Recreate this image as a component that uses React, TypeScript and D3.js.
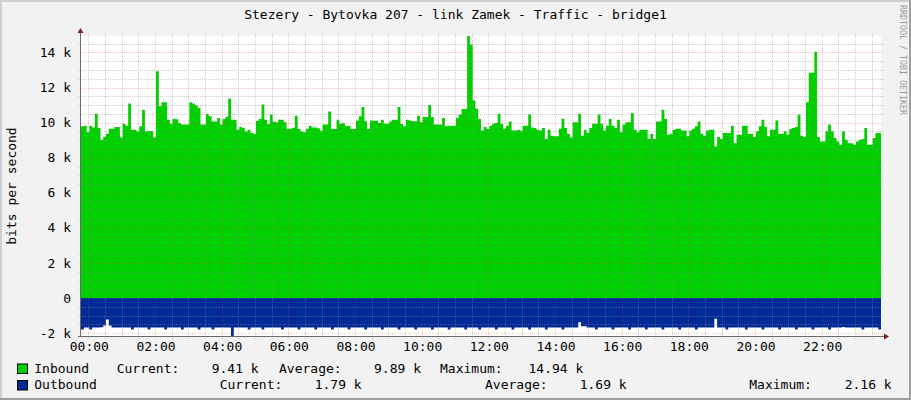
import * as d3 from 'd3';

/**
 * RRDtool-style traffic graph: inbound area above zero, outbound mirrored below.
 * 5-minute samples over 24 hours, values in kbit/s.
 */

const TITLE = 'Stezery - Bytovka 207 - link Zamek - Traffic - bridge1';
const Y_TITLE = 'bits per second';
const WATERMARK = 'RRDTOOL / TOBI OETIKER';

// inbound, kbit/s, one value per 5 minutes
const inbound = [
  9.80, 9.82, 9.45, 9.83, 9.73, 10.51, 9.70, 9.03, 9.20, 9.37,
  9.66, 9.66, 9.75, 9.75, 9.16, 9.94, 9.83, 11.09, 9.60, 9.60,
  9.50, 9.79, 10.74, 9.50, 9.52, 9.52, 9.16, 12.93, 10.93, 11.16,
  11.16, 10.17, 9.94, 10.23, 10.20, 9.98, 9.90, 9.90, 9.90, 11.16,
  11.09, 10.99, 10.84, 9.90, 9.90, 10.49, 10.36, 10.07, 10.07, 10.27,
  9.89, 10.21, 10.34, 11.37, 10.17, 10.17, 9.60, 9.75, 9.70, 9.50,
  9.60, 9.41, 9.37, 10.11, 10.21, 11.03, 10.17, 9.92, 10.46, 10.07,
  10.02, 10.17,
  10.17, 10.02, 9.66, 9.66, 9.71, 10.40, 9.64, 9.50, 9.45, 9.66,
  9.83, 9.73, 9.73, 9.68, 9.54, 9.89, 9.89, 10.63, 9.64, 9.64,
  10.17, 9.94, 9.98, 9.79, 9.83, 9.64, 9.64, 10.13, 10.36, 10.90,
  10.08, 9.64, 10.13, 10.11, 10.11, 9.98, 10.17, 9.94, 9.94, 10.06,
  10.17, 10.17, 10.90, 9.92, 9.79, 10.17, 10.13, 10.08, 10.08, 10.40,
  10.02, 10.32, 10.32, 11.01, 10.32, 9.89, 9.89, 9.89, 10.27, 9.79,
  9.83, 9.83, 9.83, 10.27, 10.46, 10.78, 10.78, 14.94, 14.46, 11.26,
  10.80, 10.21,
  9.55, 9.75, 9.64, 9.83, 9.94, 9.98, 10.51, 9.94, 9.66, 9.83,
  10.06, 9.56, 9.56, 9.60, 9.54, 9.83, 9.83, 10.46, 9.72, 9.70,
  9.60, 9.56, 9.70, 9.07, 9.60, 9.26, 9.22, 9.22, 9.66, 10.23,
  9.70, 9.37, 9.16, 10.02, 10.02, 10.51, 9.26, 9.60, 9.41, 9.70,
  9.94, 9.94, 10.46, 9.94, 9.56, 9.83, 10.21, 9.83, 9.70, 10.17,
  9.45, 9.89, 10.02, 10.02, 10.55, 9.60, 9.45, 9.60, 9.60, 9.60,
  9.07, 9.37, 9.07, 10.07, 10.07, 10.74, 10.21, 9.31, 9.37, 9.60,
  9.66, 9.66,
  9.56, 9.56, 9.22, 9.56, 9.65, 9.79, 10.06, 9.37, 9.26, 9.56,
  9.60, 9.60, 8.64, 9.18, 9.07, 9.41, 9.41, 9.41, 9.83, 8.83,
  9.31, 9.31, 9.83, 9.83, 9.37, 9.37, 9.18, 9.51, 9.79, 10.17,
  9.75, 9.22, 9.60, 9.60, 10.13, 9.37, 9.37, 9.51, 9.31, 9.64,
  9.70, 9.75, 10.46, 9.26, 9.18, 11.16, 12.84, 12.84, 14.04, 9.18,
  8.93, 8.93, 9.51, 9.89, 9.51, 9.13, 8.93, 8.74, 9.51, 9.03,
  8.83, 8.83, 8.74, 8.93, 9.03, 9.07, 9.70, 8.74, 8.74, 9.13,
  9.41, 9.41,
];

// outbound, kbit/s (drawn below zero), one value per 5 minutes
const outbound = [
  1.79, 1.68, 1.68, 1.79, 1.68, 1.68, 1.68, 1.66, 1.56, 1.22, 1.56, 1.68,
  1.68, 1.68, 1.68, 1.68, 1.68, 1.68, 1.79, 1.68, 1.68, 1.68, 1.68, 1.68,
  1.79, 1.68, 1.68, 1.68, 1.68, 1.68, 1.79, 1.68, 1.68, 1.68, 1.68, 1.68,
  1.79, 1.68, 1.68, 1.68, 1.68, 1.68, 1.79, 1.68, 1.68, 1.68, 1.68, 1.79,
  1.68, 1.68, 1.68, 1.68, 1.68, 1.68, 2.16, 1.68, 1.68, 1.68, 1.68, 1.68,
  1.79, 1.68, 1.68, 1.68, 1.68, 1.79, 1.68, 1.68, 1.68, 1.68, 1.68, 1.68,
  1.79, 1.68, 1.68, 1.68, 1.68, 1.68, 1.79, 1.68, 1.68, 1.68, 1.68, 1.68,
  1.79, 1.68, 1.68, 1.68, 1.68, 1.68, 1.79, 1.68, 1.68, 1.68, 1.68, 1.68,
  1.79, 1.68, 1.68, 1.68, 1.68, 1.68, 1.79, 1.68, 1.68, 1.68, 1.68, 1.68,
  1.79, 1.68, 1.68, 1.68, 1.68, 1.68, 1.79, 1.68, 1.68, 1.68, 1.68, 1.68,
  1.79, 1.68, 1.68, 1.68, 1.68, 1.68, 1.79, 1.68, 1.68, 1.68, 1.68, 1.68,
  1.79, 1.68, 1.68, 1.68, 1.68, 1.68, 1.79, 1.68, 1.68, 1.68, 1.68, 1.79,
  1.68, 1.68, 1.68, 1.68, 1.68, 1.79, 1.68, 1.68, 1.68, 1.68, 1.68, 1.79,
  1.68, 1.68, 1.68, 1.68, 1.68, 1.79, 1.68, 1.68, 1.68, 1.68, 1.68, 1.79,
  1.68, 1.68, 1.68, 1.68, 1.68, 1.79, 1.68, 1.68, 1.68, 1.68, 1.68, 1.37,
  1.60, 1.60, 1.68, 1.68, 1.68, 1.79, 1.68, 1.68, 1.68, 1.68, 1.68, 1.79,
  1.68, 1.68, 1.68, 1.68, 1.68, 1.79, 1.68, 1.68, 1.68, 1.68, 1.68, 1.79,
  1.68, 1.68, 1.68, 1.68, 1.68, 1.79, 1.68, 1.68, 1.68, 1.68, 1.68, 1.79,
  1.68, 1.68, 1.68, 1.68, 1.68, 1.79, 1.68, 1.68, 1.68, 1.68, 1.68, 1.68,
  1.18, 1.68, 1.68, 1.68, 1.79, 1.68, 1.68, 1.68, 1.68, 1.68, 1.68, 1.79,
  1.68, 1.68, 1.68, 1.68, 1.68, 1.79, 1.68, 1.68, 1.68, 1.68, 1.68, 1.79,
  1.68, 1.68, 1.68, 1.68, 1.68, 1.79, 1.68, 1.68, 1.68, 1.68, 1.68, 1.79,
  1.68, 1.68, 1.68, 1.68, 1.68, 1.79, 1.68, 1.68, 1.68, 1.68, 1.64, 1.68,
  1.68, 1.68, 1.68, 1.68, 1.68, 1.79, 1.68, 1.68, 1.68, 1.68, 1.68, 1.79,
];

const seriesNames = ['Inbound', 'Outbound'];
const statNames = ['Current:', 'Average:', 'Maximum:'];
const inboundStats = ['9.41 k', '9.89 k', '14.94 k'];
const outboundStats = ['1.79 k', '1.69 k', '2.16 k'];
const hourTicks = [0, 2, 4, 6, 8, 10, 12, 14, 16, 18, 20, 22];
const yTicks = [-2, 0, 2, 4, 6, 8, 10, 12, 14];
const yLimits = [-2.16, 14.94]; // autoscaled to the data extremes

const W = 911;
const H = 400;
const plot = { left: 81, right: 881, top: 36, bottom: 336 };
const START_MIN = -13.2; // first sample, minutes from midnight
const STEP_MIN = 5;
const FONT = '"DejaVu Sans Mono", monospace';
const GREEN = '#00CF00';
const BLUE = '#002A97';

// legend layout: label starts and value right edges per row
const legendLayout = [
  { labelX: [116.7, 279, 440], valueEnd: [258.7, 421, 583.3], y: 372.5, box: 363.5 },
  { labelX: [219.7, 485, 749.3], valueEnd: [361.7, 626.7, 891.7], y: 389, box: 380 },
];

const x = d3.scaleLinear().domain([START_MIN, START_MIN + 24 * 60]).range([plot.left, plot.right]);
const y = d3.scaleLinear().domain(yLimits).range([plot.bottom, plot.top]);
const px = (v: number) => Math.round(v) + 0.5;

function stepArea(values: number[], sign: number) {
  const pts: [number, number][] = values.map((v, i) => [START_MIN + i * STEP_MIN, sign * v]);
  pts.push([START_MIN + values.length * STEP_MIN, sign * values[values.length - 1]]);
  return d3.area<[number, number]>()
    .x((d) => x(d[0]))
    .y0(y(0))
    .y1((d) => y(d[1]))
    .curve(d3.curveStepAfter)(pts) || '';
}

const pad2 = (n: number) => (n < 10 ? '0' + n : '' + n);

export default function App() {
  const minorY = d3.range(-1.5, 14.94, 0.5).filter((v) => v % 2 !== 0);
  const majorY = yTicks;
  const minorX = d3.range(0, 24 * 60, 30).filter((t) => t % 120 !== 0 && x(t) < plot.right);
  const majorX = hourTicks.map((h) => h * 60);

  const stats = [inboundStats, outboundStats];
  const colors = [GREEN, BLUE];

  return (
    <svg
      width={W}
      height={H}
      style={{ position: 'absolute', left: 0, top: 0, display: 'block' }}
      fontFamily={FONT}
    >
      <rect x={0} y={0} width={W} height={H} fill="#F2F2F2" />
      <rect x={0} y={0} width={W} height={2} fill="#CFCFCF" />
      <rect x={0} y={0} width={2} height={H} fill="#CFCFCF" />
      <rect x={0} y={H - 2} width={W} height={2} fill="#9E9E9E" />
      <rect x={W - 2} y={0} width={2} height={H} fill="#9E9E9E" />

      <rect x={plot.left} y={plot.top} width={plot.right - plot.left} height={plot.bottom - plot.top} fill="#fff" />

      <path d={stepArea(inbound, 1)} fill={GREEN} />
      <path d={stepArea(outbound, -1)} fill={BLUE} />

      {/* minor grid */}
      <g stroke="#8F8F8F" strokeOpacity={0.45} strokeDasharray="1,1" strokeWidth={1}>
        {minorY.map((v) => (
          <line key={'my' + v} x1={plot.left - 3} x2={plot.right + 3} y1={px(y(v))} y2={px(y(v))} />
        ))}
        {minorX.map((t) => (
          <line key={'mx' + t} x1={px(x(t))} x2={px(x(t))} y1={plot.top - 2} y2={plot.bottom + 3} />
        ))}
      </g>
      {/* major grid */}
      <g stroke="#DE4F4F" strokeOpacity={0.33} strokeDasharray="1,1" strokeWidth={1}>
        {majorY.map((v) => (
          <line key={'My' + v} x1={plot.left - 3} x2={plot.right + 3} y1={px(y(v))} y2={px(y(v))} />
        ))}
        {majorX.map((t) => (
          <line key={'Mx' + t} x1={px(x(t))} x2={px(x(t))} y1={plot.top - 2} y2={plot.bottom + 3} />
        ))}
      </g>

      {/* axes */}
      <line x1={plot.left - 0.5} x2={plot.left - 0.5} y1={plot.bottom + 1} y2={plot.top - 4} stroke="#6a6a6a" />
      <line x1={plot.left - 3} x2={plot.right + 4} y1={plot.bottom + 0.5} y2={plot.bottom + 0.5} stroke="#6a6a6a" />
      <path
        d={`M${plot.left - 0.5},${plot.top - 8} L${plot.left - 3.5},${plot.top - 3} L${plot.left + 2.5},${plot.top - 3} Z`}
        fill="#801F1F"
      />
      <path
        d={`M${plot.right + 8},${plot.bottom + 0.5} L${plot.right + 3},${plot.bottom - 2.5} L${plot.right + 3},${plot.bottom + 3.5} Z`}
        fill="#801F1F"
      />

      {/* y labels */}
      <g fontSize={13} fill="#000" textAnchor="end" style={{ whiteSpace: 'pre' }}>
        {yTicks.map((v) => (
          <text key={'yl' + v} x={71} y={y(v)} dy="0.35em">
            {v === 0 ? '0  ' : `${v} k`}
          </text>
        ))}
      </g>

      {/* x labels */}
      <g fontSize={13} fill="#000" textAnchor="middle">
        {hourTicks.map((h) => (
          <text key={'xl' + h} x={x(h * 60) + 1} y={351}>
            {pad2(h)}:00
          </text>
        ))}
      </g>

      <text x={455.5} y={18.5} fontSize={13} textAnchor="middle" fill="#000">
        {TITLE}
      </text>

      <text
        transform={`translate(15.5,${(plot.top + plot.bottom) / 2}) rotate(-90)`}
        fontSize={13}
        textAnchor="middle"
        fill="#000"
      >
        {Y_TITLE}
      </text>

      <text transform="translate(899.5,5) rotate(90)" fontSize={8.3} fill="#9a9a9a">
        {WATERMARK}
      </text>

      {/* legend */}
      <g fontSize={13} fill="#000">
        {seriesNames.map((name, r) => {
          const lay = legendLayout[r];
          return (
            <g key={name}>
              <rect x={17.5} y={lay.box + 0.5} width={10} height={9.5} fill={colors[r]} stroke="#000" strokeWidth={1} />
              <text x={34.3} y={lay.y}>{name}</text>
              {statNames.map((s, k) => (
                <g key={s}>
                  <text x={lay.labelX[k]} y={lay.y}>{s}</text>
                  <text x={lay.valueEnd[k]} y={lay.y} textAnchor="end">{stats[r][k]}</text>
                </g>
              ))}
            </g>
          );
        })}
      </g>
    </svg>
  );
}
